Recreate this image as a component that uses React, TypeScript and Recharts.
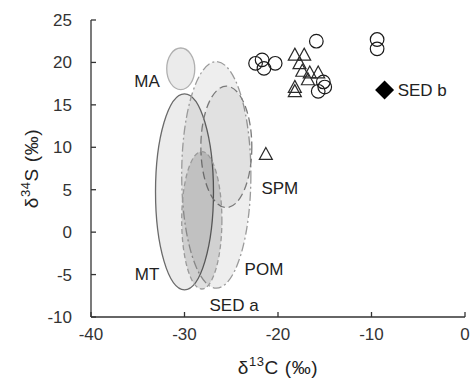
import { ReferenceArea, Scatter, ScatterChart, XAxis, YAxis } from 'recharts'

const xTicks = [-40, -30, -20, -10, 0]
const yTicks = [-10, -5, 0, 5, 10, 15, 20, 25]

// open circles
const circles = [
  { x: -22.4, y: 19.9 },
  { x: -21.7, y: 20.3 },
  { x: -21.5, y: 19.3 },
  { x: -20.3, y: 19.9 },
  { x: -15.9, y: 22.5 },
  { x: -9.4, y: 22.7 },
  { x: -9.4, y: 21.6 },
  { x: -15.15, y: 17.7 },
  { x: -15.0, y: 17.1 },
  { x: -15.7, y: 16.6 },
]

// open triangles
const triangles = [
  { x: -18.2, y: 20.8 },
  { x: -17.2, y: 20.8 },
  { x: -17.7, y: 19.8 },
  { x: -17.4, y: 18.9 },
  { x: -16.6, y: 18.7 },
  { x: -15.7, y: 18.7 },
  { x: -16.8, y: 17.9 },
  { x: -18.2, y: 17.0 },
  { x: -18.2, y: 16.5 },
  { x: -21.3, y: 9.1 },
]

const sedB = [{ x: -8.6, y: 16.75 }]

// source ranges, drawn as ellipses inside these boxes
const ellipseNames = ['MA', 'MT', 'POM', 'SPM', 'SED a']
const ellipseX = [
  [-31.9, -28.9],
  [-33.1, -26.9],
  [-30.3, -22.9],
  [-28.25, -22.8],
  [-30.3, -26.0],
]
const ellipseY = [
  [16.8, 21.7],
  [-6.8, 16.3],
  [-6.6, 20.1],
  [2.9, 17.2],
  [-6.7, 9.5],
]

const labels = [
  { name: 'MA', x: -34.0, y: 17.7 },
  { name: 'MT', x: -34.0, y: -5.0 },
  { name: 'POM', x: -21.5, y: -4.4 },
  { name: 'SPM', x: -19.8, y: 5.2 },
  { name: 'SED a', x: -24.7, y: -8.6 },
]
const sedBLabel = [{ name: 'SED b', x: -7.2, y: 16.75 }]

const FONT = '"Liberation Sans", Arial, sans-serif'

const ellipseStyle: Record<string, any> = {
  MA: { fill: '#ebebeb', fillOpacity: 1, stroke: '#b0b0b0', dash: undefined },
  MT: { fill: '#000', fillOpacity: 0.075, stroke: '#6a6a6a', dash: undefined },
  POM: { fill: '#000', fillOpacity: 0.065, stroke: '#9a9a9a', dash: '9 3 2 3' },
  SPM: { fill: '#000', fillOpacity: 0.05, stroke: '#7a7a7a', dash: '8 4' },
  'SED a': { fill: '#000', fillOpacity: 0.12, stroke: '#9a9a9a', dash: '5 3' },
}

const makeEllipse = (s: any) => (p: any) => (
  <ellipse
    cx={p.x + p.width / 2}
    cy={p.y + p.height / 2}
    rx={Math.abs(p.width) / 2}
    ry={Math.abs(p.height) / 2}
    fill={s.fill}
    fillOpacity={s.fillOpacity}
    stroke={s.stroke}
    strokeWidth={1.3}
    strokeDasharray={s.dash}
  />
)

const circleShape = (p: any) => (
  <circle cx={p.cx} cy={p.cy} r={6.8} fill="none" stroke="#1a1a1a" strokeWidth={1.2} />
)

const triangleShape = (p: any) => (
  <path
    d={`M${p.cx},${p.cy - 7.5}L${p.cx + 6.5},${p.cy + 4.5}L${p.cx - 6.5},${p.cy + 4.5}Z`}
    fill="none"
    stroke="#2a2a2a"
    strokeWidth={1.2}
  />
)

const diamondShape = (p: any) => (
  <path
    d={`M${p.cx},${p.cy - 9.5}L${p.cx + 9.5},${p.cy}L${p.cx},${p.cy + 9.5}L${p.cx - 9.5},${p.cy}Z`}
    fill="#000"
  />
)

const textShape = (anchor: string) => (p: any) => (
  <text
    x={p.cx}
    y={p.cy}
    textAnchor={anchor}
    dominantBaseline="central"
    fontFamily={FONT}
    fontSize={17}
    fill="#222"
  >
    {p.payload.name}
  </text>
)

const xTitle = (props: any) => {
  const vb = props.viewBox
  return (
    <text
      x={vb.x + vb.width / 2}
      y={vb.y + 57}
      textAnchor="middle"
      fontFamily={FONT}
      fontSize={19}
      letterSpacing={0.6}
      fill="#222"
    >
      δ<tspan dy={-8} fontSize={13}>13</tspan>
      <tspan dy={8}>C (‰)</tspan>
    </text>
  )
}

const yTitle = (props: any) => {
  const vb = props.viewBox
  const cx = 38
  const cy = vb.y + vb.height / 2
  return (
    <text
      x={cx}
      y={cy}
      textAnchor="middle"
      transform={`rotate(-90, ${cx}, ${cy})`}
      fontFamily={FONT}
      fontSize={19}
      letterSpacing={0.6}
      fill="#222"
    >
      δ<tspan dy={-8} fontSize={13}>34</tspan>
      <tspan dy={8}>S (‰)</tspan>
    </text>
  )
}

export default function App() {
  return (
    <div style={{ position: 'absolute', left: 0, top: 0 }}>
      <ScatterChart width={473} height={382} margin={{ top: 20, right: 8, bottom: 0, left: 0 }}>
        <XAxis
          type="number"
          dataKey="x"
          domain={[-40, 0]}
          ticks={xTicks}
          interval={0}
          height={65}
          tickSize={-5}
          tickMargin={16}
          axisLine={{ stroke: '#333', strokeWidth: 1.3 }}
          tickLine={{ stroke: '#333', strokeWidth: 1.3 }}
          tick={{ fontFamily: FONT, fontSize: 17, fill: '#333' }}
          label={{ content: xTitle }}
        />
        <YAxis
          type="number"
          dataKey="y"
          domain={[-10, 25]}
          ticks={yTicks}
          interval={0}
          width={91}
          tickSize={-5}
          tickMargin={24}
          axisLine={{ stroke: '#333', strokeWidth: 1.3 }}
          tickLine={{ stroke: '#333', strokeWidth: 1.3 }}
          tick={{ fontFamily: FONT, fontSize: 17, fill: '#333' }}
          label={{ content: yTitle }}
        />
        {ellipseNames.map((n, i) => (
          <ReferenceArea
            key={n}
            x1={ellipseX[i][0]}
            x2={ellipseX[i][1]}
            y1={ellipseY[i][0]}
            y2={ellipseY[i][1]}
            ifOverflow="visible"
            shape={makeEllipse(ellipseStyle[n])}
          />
        ))}
        <Scatter data={circles} shape={circleShape} isAnimationActive={false} />
        <Scatter data={triangles} shape={triangleShape} isAnimationActive={false} />
        <Scatter data={sedB} shape={diamondShape} isAnimationActive={false} />
        <Scatter data={labels} shape={textShape('middle')} isAnimationActive={false} />
        <Scatter data={sedBLabel} shape={textShape('start')} isAnimationActive={false} />
      </ScatterChart>
    </div>
  )
}
